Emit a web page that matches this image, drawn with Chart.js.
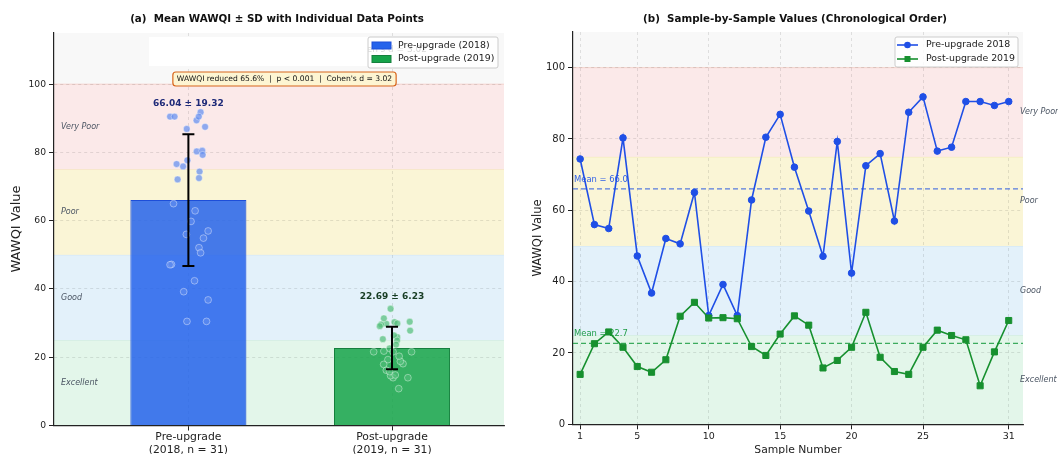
<!DOCTYPE html>
<html>
<head>
<meta charset="utf-8">
<title>WAWQI pre/post upgrade</title>
<script src="https://cdn.jsdelivr.net/npm/chart.js@4.4.1/dist/chart.umd.min.js"></script>
<style>
  html, body { margin:0; padding:0; background:#fff; }
  #fig { position:relative; width:1058px; height:454px; overflow:hidden; }
  #fig canvas { position:absolute; top:0; }
  #cvA { left:0; }
  #cvB { left:529px; }
</style>
</head>
<body>
<div id="fig">
  <canvas id="cvA" width="529" height="454"></canvas>
  <canvas id="cvB" width="529" height="454"></canvas>
</div>
<script>
// WAWQI per sample, same 31 sites, 2018 vs 2019
const sampleNo = [1,2,3,4,5,6,7,8,9,10,11,12,13,14,15,16,17,18,19,20,21,22,23,24,25,26,27,28,29,30,31];
const pre2018  = [74.4,56.0,54.9,80.3,47.2,36.8,52.1,50.6,65.0,30.5,39.2,30.5,62.9,80.5,86.9,72.1,
                  59.8,47.1,79.3,42.4,72.5,75.9,57.0,87.5,91.8,76.6,77.7,90.5,90.5,89.4,90.5];
const post2019 = [14.0,22.6,25.9,21.6,16.2,14.6,18.1,30.3,34.2,29.8,29.9,29.6,21.8,19.3,25.3,30.4,
                  27.8,15.8,17.9,21.6,31.4,18.8,14.8,14.0,21.6,26.4,24.9,23.7,10.8,20.3,29.1];

const groups    = ['Pre-upgrade', 'Post-upgrade'];
const groupSub  = ['(2018, n = 31)', '(2019, n = 31)'];
const groupMean = [66.04, 22.69];
const groupSD   = [19.32, 6.23];

// horizontal spread of the dots around each bar centre
const jitterPre  = [0.055,-0.010,0.074,0.041,-0.083,0.097,0.052,0.060,-0.073,-0.007,-0.023,0.089,0.033,0.068,-0.008,-0.053,
                    0.013,-0.090,0.070,0.030,0.052,-0.026,0.097,0.082,0.060,-0.058,-0.005,-0.090,-0.068,0.040,0.051];
const jitterPost = [0.005,-0.012,0.026,-0.090,-0.028,-0.007,0.054,0.012,-0.007,-0.028,0.026,-0.053,-0.040,-0.020,-0.045,0.087,
                    0.089,-0.012,-0.041,0.096,-0.040,0.041,0.016,0.078,0.005,0.010,0.025,0.020,0.033,0.035,-0.060];

const bandEdges = [0, 25, 50, 75, 100];
const bandNames = ['Excellent', 'Good', 'Poor', 'Very Poor'];
const yTicks    = [0, 20, 40, 60, 80, 100];
const xTicksB   = [1, 5, 10, 15, 20, 25, 31];
const summary   = "WAWQI reduced 65.6%  |  p < 0.001  |  Cohen's d = 3.02";

const FONT = "'DejaVu Sans', sans-serif";
const bandFill = ['#e3f6ea', '#e3f1fa', '#faf5d6', '#fbe9e9'];
const bandLine = ['#cdebdc', '#cfe3f2', '#f3e5ad', '#f4d3cd'];
const LINE_BLUE = '#1f4fe6', LINE_GREEN = '#17902f';

Chart.defaults.font.family = FONT;
Chart.defaults.color = '#222';

function roundBox(ctx, x, y, w, h, r) {
  ctx.beginPath();
  ctx.moveTo(x + r, y);
  ctx.arcTo(x + w, y, x + w, y + h, r);
  ctx.arcTo(x + w, y + h, x, y + h, r);
  ctx.arcTo(x, y + h, x, y, r);
  ctx.arcTo(x, y, x + w, y, r);
  ctx.closePath();
}

function text(ctx, s, x, y, font, color, align, base) {
  ctx.font = font;
  ctx.fillStyle = color;
  ctx.textAlign = align || 'left';
  ctx.textBaseline = base || 'middle';
  ctx.fillText(s, x, y);
}

// quality bands behind both panels
const bands = {
  id: 'bands',
  beforeDraw(chart, _a, o) {
    const { ctx, chartArea: a } = chart;
    const y = chart.scales.y;
    ctx.save();
    ctx.fillStyle = '#f8f8f8';
    ctx.fillRect(a.left, a.top, a.width, a.height);
    const lx = o.outside ? a.right - 3 : a.left + 7;
    for (let i = 0; i < bandNames.length; i++) {
      const top = y.getPixelForValue(bandEdges[i + 1]);
      const bot = y.getPixelForValue(bandEdges[i]);
      ctx.fillStyle = bandFill[i];
      ctx.fillRect(a.left, top, a.width, bot - top);
      ctx.strokeStyle = bandLine[i];
      ctx.lineWidth = 1;
      ctx.beginPath(); ctx.moveTo(a.left, top); ctx.lineTo(a.right, top); ctx.stroke();
      text(ctx, bandNames[i], lx, y.getPixelForValue((bandEdges[i] + bandEdges[i + 1]) / 2),
           'italic 8px ' + FONT, '#4b5563');
    }
    ctx.restore();
  }
};

// ---------- (a) bars with SD and dots ----------
const barsOverlay = {
  id: 'barsOverlay',
  afterDatasetsDraw(chart) {
    const { ctx } = chart;
    const x = chart.scales.x, y = chart.scales.y;
    const labelCol = ['#1e2a78', '#173d24'];
    ctx.save();
    groupMean.forEach((m, i) => {
      const px = x.getPixelForValue(i);
      const t = y.getPixelForValue(m + groupSD[i]);
      const b = y.getPixelForValue(m - groupSD[i]);
      ctx.strokeStyle = '#000';
      ctx.lineWidth = 2;
      ctx.beginPath();
      ctx.moveTo(px, t); ctx.lineTo(px, b);
      ctx.moveTo(px - 6, t); ctx.lineTo(px + 6, t);
      ctx.moveTo(px - 6, b); ctx.lineTo(px + 6, b);
      ctx.stroke();
      text(ctx, m.toFixed(2) + ' \u00b1 ' + groupSD[i].toFixed(2), px, y.getPixelForValue(m + groupSD[i] + 7.5),
           'bold 9px ' + FONT, labelCol[i], 'center', 'bottom');
    });
    ctx.restore();
  },
  afterDraw(chart) {
    const { ctx } = chart;
    ctx.save();
    // blank stats box, mostly hidden by the legend
    ctx.fillStyle = '#ffffff';
    ctx.fillRect(149, 37, 290, 29);
    ctx.save();
    ctx.beginPath(); ctx.rect(368, 37, 130, 31); ctx.clip();
    text(ctx, "Cohen's d = 3.02", 427, 50, '9px ' + FONT, '#333', 'right');
    ctx.restore();

    // summary badge
    ctx.font = '7.6px ' + FONT;
    const w = ctx.measureText(summary).width + 8;
    roundBox(ctx, 284.5 - w / 2, 72, w, 14, 3);
    ctx.fillStyle = '#fdf5d2';
    ctx.fill();
    ctx.strokeStyle = '#d8661c';
    ctx.lineWidth = 1.2;
    ctx.stroke();
    text(ctx, summary, 284.5, 79.5, '7.6px ' + FONT, '#111', 'center');

    // legend
    roundBox(ctx, 368, 37, 130, 31, 2);
    ctx.fillStyle = 'rgba(255,255,255,0.8)';
    ctx.fill();
    ctx.strokeStyle = '#cccccc';
    ctx.lineWidth = 1;
    ctx.stroke();
    const sw = [['#2563eb', '#1d4ed8'], ['#16a34a', '#15803d']];
    ['Pre-upgrade (2018)', 'Post-upgrade (2019)'].forEach((s, i) => {
      const cy = 45.5 + i * 13.5;
      ctx.fillStyle = sw[i][0];
      ctx.fillRect(372, cy - 3.5, 19, 7);
      ctx.strokeStyle = sw[i][1];
      ctx.strokeRect(372, cy - 3.5, 19, 7);
      text(ctx, s, 398, cy, '9.4px ' + FONT, '#222');
    });

    text(ctx, '(a)  Mean WAWQI \u00b1 SD with Individual Data Points', 277, 19.5, 'bold 10.3px ' + FONT, '#111', 'center');
    ctx.save();
    ctx.translate(17, 229);
    ctx.rotate(-Math.PI / 2);
    text(ctx, 'WAWQI Value', 0, 0, '13px ' + FONT, '#222', 'center');
    ctx.restore();
    ctx.restore();
  }
};

const gridOpts = { color: 'rgba(0,0,0,0.13)', lineWidth: 0.8, tickColor: '#222', tickLength: 5, tickWidth: 1 };
const borderOpts = { display: true, color: '#222', width: 1.2, dash: [3, 3] };

new Chart(document.getElementById('cvA'), {
  data: {
    datasets: [
      {
        type: 'bar', order: 2,
        data: groupMean.map((m, i) => ({ x: i, y: m })),
        backgroundColor: ['rgba(37,99,235,0.85)', 'rgba(22,163,74,0.85)'],
        borderColor: ['#1d4ed8', '#15803d'],
        borderWidth: 1,
        categoryPercentage: 1, barPercentage: 0.57
      },
      {
        type: 'scatter', order: 1,
        data: pre2018.map((v, i) => ({ x: 0 + jitterPre[i], y: v })),
        backgroundColor: 'rgba(96,140,240,0.7)', borderColor: 'rgba(255,255,255,0.55)',
        borderWidth: 0.7, pointRadius: 3.4
      },
      {
        type: 'scatter', order: 1,
        data: post2019.map((v, i) => ({ x: 1 + jitterPost[i], y: v })),
        backgroundColor: 'rgba(80,190,120,0.7)', borderColor: 'rgba(255,255,255,0.55)',
        borderWidth: 0.7, pointRadius: 3.4
      }
    ]
  },
  options: {
    responsive: false, animation: false,
    layout: { padding: { top: 33, right: 25, left: 0, bottom: 0 } },
    plugins: { legend: { display: false }, tooltip: { enabled: false }, bands: { outside: false } },
    scales: {
      x: {
        type: 'linear', min: -0.66, max: 1.55, offset: false,
        grid: { ...gridOpts, offset: false },
        border: borderOpts,
        afterBuildTicks: s => { s.ticks = groups.map((g, i) => ({ value: i })); },
        afterFit: s => { s.height = 28.5; },
        ticks: {
          autoSkip: false, maxRotation: 0, padding: 0,
          font: { size: 10.8 }, color: '#222',
          callback: v => [groups[v], groupSub[v]]
        }
      },
      y: {
        min: 0, max: 115,
        grid: gridOpts,
        border: borderOpts,
        afterBuildTicks: s => { s.ticks = yTicks.map(v => ({ value: v })); },
        afterFit: s => { s.width = 54; },
        ticks: { padding: 3, font: { size: 9.2 }, color: '#222' }
      }
    }
  },
  plugins: [bands, barsOverlay]
});

// ---------- (b) chronological lines ----------
const linesOverlay = {
  id: 'linesOverlay',
  beforeDatasetsDraw(chart) {
    const { ctx, chartArea: a } = chart;
    const y = chart.scales.y;
    ctx.save();
    [[groupMean[0], '#3b66e0', '#2f5fe6'], [groupMean[1], '#1f9d45', '#1f9d45']].forEach(([m, lc, tc]) => {
      const py = y.getPixelForValue(m);
      ctx.strokeStyle = lc;
      ctx.globalAlpha = 0.85;
      ctx.lineWidth = 1.2;
      ctx.setLineDash([5, 3]);
      ctx.beginPath(); ctx.moveTo(a.left, py); ctx.lineTo(a.right, py); ctx.stroke();
      ctx.setLineDash([]);
      ctx.globalAlpha = 1;
      text(ctx, 'Mean = ' + m.toFixed(1), a.left + 1, py - 5, '8.4px ' + FONT, tc, 'left', 'bottom');
    });
    ctx.restore();
  },
  afterDraw(chart) {
    const { ctx, chartArea: a } = chart;
    ctx.save();
    const L = { x: 366, y: 37, w: 123, h: 30 };
    roundBox(ctx, L.x, L.y, L.w, L.h, 2);
    ctx.fillStyle = 'rgba(255,255,255,0.8)';
    ctx.fill();
    ctx.strokeStyle = '#cccccc';
    ctx.lineWidth = 1;
    ctx.stroke();
    [['Pre-upgrade 2018', LINE_BLUE, 'circle'], ['Post-upgrade 2019', LINE_GREEN, 'rect']].forEach(([s, c, shape], i) => {
      const cy = 45 + i * 14;
      ctx.strokeStyle = c;
      ctx.lineWidth = 1.6;
      ctx.beginPath(); ctx.moveTo(368, cy); ctx.lineTo(389, cy); ctx.stroke();
      ctx.fillStyle = c;
      if (shape === 'circle') { ctx.beginPath(); ctx.arc(378.5, cy, 3.3, 0, Math.PI * 2); ctx.fill(); }
      else ctx.fillRect(375.5, cy - 3, 6, 6);
      text(ctx, s, 397, cy, '9.4px ' + FONT, '#222');
    });

    text(ctx, '(b)  Sample-by-Sample Values (Chronological Order)', 266, 19.5, 'bold 10.3px ' + FONT, '#111', 'center');
    text(ctx, 'Sample Number', (a.left + a.right) / 2, 450, '10.8px ' + FONT, '#222', 'center');
    ctx.save();
    ctx.translate(9, 238);
    ctx.rotate(-Math.PI / 2);
    text(ctx, 'WAWQI Value', 0, 0, '11.5px ' + FONT, '#222', 'center');
    ctx.restore();
    ctx.restore();
  }
};

new Chart(document.getElementById('cvB'), {
  type: 'line',
  data: {
    datasets: [
      {
        label: 'Pre-upgrade 2018', order: 1,
        data: sampleNo.map((n, i) => ({ x: n, y: pre2018[i] })),
        borderColor: LINE_BLUE, backgroundColor: LINE_BLUE,
        borderWidth: 1.6, tension: 0, pointStyle: 'circle', pointRadius: 3.3, pointBorderWidth: 1
      },
      {
        label: 'Post-upgrade 2019', order: 0,
        data: sampleNo.map((n, i) => ({ x: n, y: post2019[i] })),
        borderColor: LINE_GREEN, backgroundColor: LINE_GREEN,
        borderWidth: 1.6, tension: 0, pointStyle: 'rect', pointRadius: 4.3, pointBorderWidth: 1
      }
    ]
  },
  options: {
    responsive: false, animation: false,
    layout: { padding: { top: 32, right: 35, left: 0, bottom: 0 } },
    plugins: { legend: { display: false }, tooltip: { enabled: false }, bands: { outside: true } },
    scales: {
      x: {
        type: 'linear', min: 0.5, max: 32,
        grid: gridOpts,
        border: borderOpts,
        afterBuildTicks: s => { s.ticks = xTicksB.map(v => ({ value: v })); },
        afterFit: s => { s.height = 29.7; },
        ticks: { autoSkip: false, maxRotation: 0, padding: 2, font: { size: 9.5 }, color: '#222' }
      },
      y: {
        min: 0, max: 110,
        grid: gridOpts,
        border: borderOpts,
        afterBuildTicks: s => { s.ticks = yTicks.map(v => ({ value: v })); },
        afterFit: s => { s.width = 44; },
        ticks: { padding: 3, font: { size: 10 }, color: '#222' }
      }
    }
  },
  plugins: [bands, linesOverlay]
});
</script>
</body>
</html>
